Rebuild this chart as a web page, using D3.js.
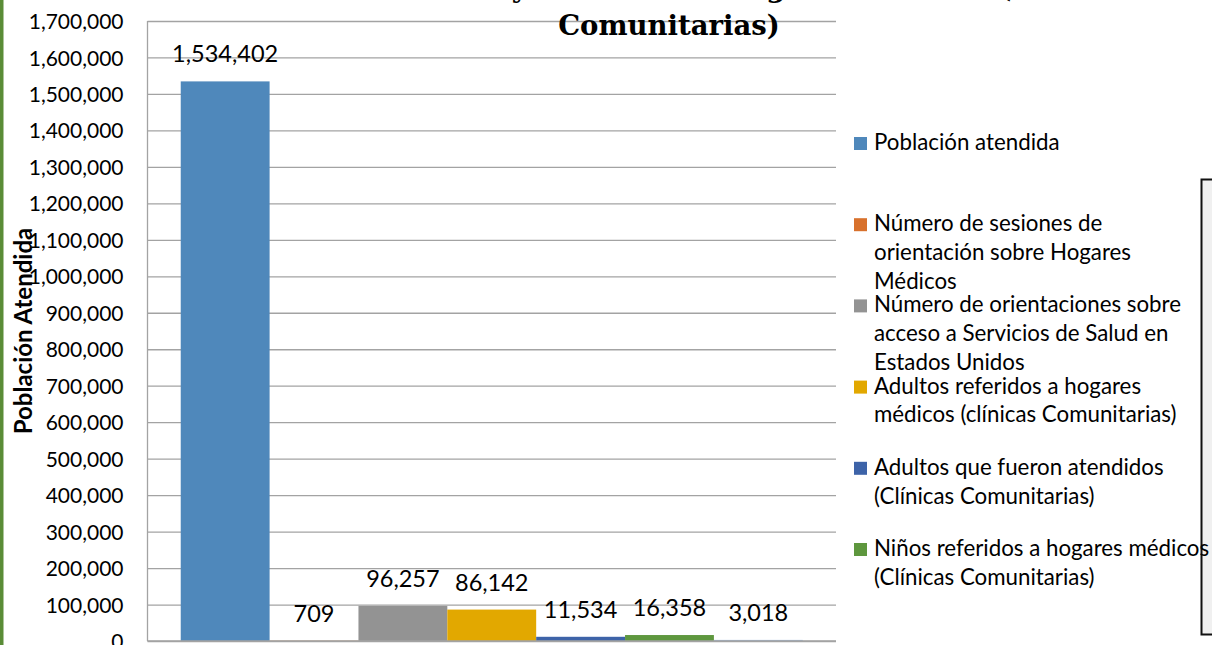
<!DOCTYPE html>
<html>
<head>
<meta charset="utf-8">
<script src="https://cdn.jsdelivr.net/npm/d3@7"></script>
<style>
  html, body { margin: 0; padding: 0; background: #ffffff; }
  svg { display: block; }
  text { font-family: Lato, "Noto Sans", sans-serif; fill: #000; }
</style>
</head>
<body>
<svg id="chart" width="1212" height="645"></svg>
<script>
// Series shown in the chart (one bar per series, single category)
const seriesNames = [
  "Población atendida",
  "Número de sesiones de orientación sobre Hogares Médicos",
  "Número de orientaciones sobre acceso a Servicios de Salud en Estados Unidos",
  "Adultos referidos a hogares médicos (clínicas Comunitarias)",
  "Adultos que fueron atendidos (Clínicas Comunitarias)",
  "Niños referidos a hogares médicos (Clínicas Comunitarias)",
  "Niños que fueron atendidos (Clínicas Comunitarias)"
];
const seriesValues = [1534402, 709, 96257, 86142, 11534, 16358, 3018];
const seriesColors = ["#4f88bb", "#d8712c", "#939393", "#e2a800", "#3d63a8", "#5e973e", "#9bbde3"];
const yTicks = [0, 100000, 200000, 300000, 400000, 500000, 600000, 700000, 800000,
  900000, 1000000, 1100000, 1200000, 1300000, 1400000, 1500000, 1600000, 1700000];
const titleLines = ["Población Atendida y Referidos a Hogares Médicos (Clínicas", "Comunitarias)"];
const yAxisTitle = "Población Atendida";
// legend lists the first six series
const legendCount = 6;

const svg = d3.select("#chart");
const fmt = d3.format(",");

const plot = { left: 147.5, right: 836, top: 21, bottom: 641 };

const y = d3.scaleLinear().domain([0, 1700000]).range([plot.bottom, plot.top]);
const x = d3.scaleBand()
  .domain(d3.range(seriesValues.length))
  .range([plot.left, plot.right])
  .paddingInner(0)
  .paddingOuter(0.374);

// left frame strip
svg.append("rect").attr("x", 0).attr("y", 0).attr("width", 3.5).attr("height", 645)
  .attr("fill", "#5a8c37");

// side panel edge
svg.append("rect")
  .attr("x", 1201.5).attr("y", 179.5)
  .attr("width", 30).attr("height", 455)
  .attr("fill", "#f0f0f0")
  .attr("stroke", "#111").attr("stroke-width", 2);

// gridlines + value labels on the axis
const yAxis = d3.axisLeft(y).tickValues(yTicks).tickFormat(fmt)
  .tickSize(-(plot.right - plot.left)).tickPadding(24);
const ag = svg.append("g").attr("transform", `translate(${plot.left},0)`).call(yAxis);
ag.select(".domain").remove();
ag.selectAll(".tick line").attr("stroke", "#a3a3a3").attr("stroke-width", 1.3);
ag.selectAll(".tick text")
  .attr("fill", "#000")
  .style("font-size", "21px")
  .attr("dy", "0.36em");

// vertical axis line
svg.append("line")
  .attr("x1", plot.left).attr("x2", plot.left)
  .attr("y1", plot.top).attr("y2", plot.bottom)
  .attr("stroke", "#a3a3a3").attr("stroke-width", 1.3);

// bars
svg.append("g").selectAll("rect")
  .data(seriesValues)
  .join("rect")
  .attr("x", (d, i) => x(i))
  .attr("width", x.bandwidth())
  .attr("y", d => y(d))
  .attr("height", d => y(0) - y(d))
  .attr("fill", (d, i) => seriesColors[i]);

// baseline
svg.append("line")
  .attr("x1", plot.left).attr("x2", plot.right)
  .attr("y1", y(0)).attr("y2", y(0))
  .attr("stroke", "#a3a3a3").attr("stroke-width", 1.3);

// value labels
svg.append("g").selectAll("text")
  .data(seriesValues)
  .join("text")
  .attr("x", (d, i) => x(i) + x.bandwidth() / 2)
  .attr("y", d => y(d) - 19)
  .attr("text-anchor", "middle")
  .style("font-size", "23.5px")
  .text(d => fmt(d));

// y axis title
svg.append("text")
  .attr("transform", `translate(32,${(plot.top + plot.bottom) / 2}) rotate(-90)`)
  .attr("text-anchor", "middle")
  .style("font-size", "24px")
  .style("font-weight", "bold")
  .text(yAxisTitle);

// chart title (first line runs above the top edge)
const tt = svg.append("text")
  .attr("text-anchor", "middle")
  .style("font-family", "'DejaVu Serif', 'Liberation Serif', serif")
  .style("font-weight", "bold")
  .style("font-size", "27.5px");
tt.selectAll("tspan").data(titleLines).join("tspan")
  .attr("x", 669)
  .attr("y", (d, i) => -3 + i * 38)
  .text(d => d);

// legend
const legendX = 854, legendTextX = 874, legendTop = 150, legendStep = 81.2, lineH = 28.8, wrapW = 340;
const lg = svg.append("g").style("font-size", "22.3px");
seriesNames.slice(0, legendCount).forEach((name, i) => {
  const by = legendTop + i * legendStep;
  lg.append("rect")
    .attr("x", legendX).attr("y", by - 13)
    .attr("width", 13).attr("height", 13)
    .attr("fill", seriesColors[i]);
  const t = lg.append("text").attr("x", legendTextX).attr("y", by);
  // wrap the label by measured width
  const words = name.split(" ");
  let line = [], lineNo = 0;
  let ts = t.append("tspan").attr("x", legendTextX).attr("y", by);
  words.forEach(w => {
    line.push(w);
    ts.text(line.join(" "));
    if (ts.node().getComputedTextLength() > wrapW && line.length > 1) {
      line.pop();
      ts.text(line.join(" "));
      line = [w];
      lineNo++;
      ts = t.append("tspan").attr("x", legendTextX).attr("y", by + lineNo * lineH).text(w);
    }
  });
});
</script>
</body>
</html>
